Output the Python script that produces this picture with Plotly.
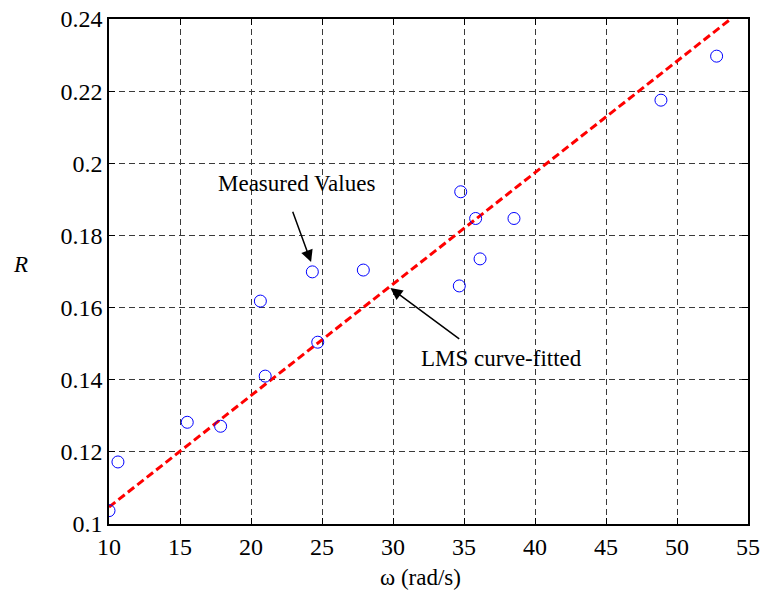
import plotly.graph_objects as go

# Measured damping-ratio samples versus angular frequency
omega_measured = [10.0, 10.63, 15.51, 17.86, 20.66, 21.0, 24.32, 24.70, 27.91,
                  34.67, 34.77, 35.82, 36.13, 38.52, 48.87, 52.79]
r_measured = [0.1037, 0.1172, 0.1282, 0.1271, 0.1618, 0.1410, 0.1699, 0.1504, 0.1704,
              0.1660, 0.1921, 0.1847, 0.1735, 0.1847, 0.2175, 0.2297]

# Least-mean-squares straight-line fit (end points)
omega_fit = [10.0, 53.78]
r_fit = [0.1047, 0.2400]

x_ticks = [10, 15, 20, 25, 30, 35, 40, 45, 50, 55]
y_ticks = [0.1, 0.12, 0.14, 0.16, 0.18, 0.2, 0.22, 0.24]
y_tick_text = ["0.1", "0.12", "0.14", "0.16", "0.18", "0.2", "0.22", "0.24"]

FONT = "Liberation Serif, Times New Roman, serif"

fig = go.Figure()

fig.add_trace(go.Scatter(
    x=omega_fit, y=r_fit, mode="lines",
    line=dict(color="#ff0000", width=3, dash="8px,4px"),
    showlegend=False, hoverinfo="skip",
))

fig.add_trace(go.Scatter(
    x=omega_measured, y=r_measured, mode="markers",
    marker=dict(symbol="circle-open", size=12, color="#0000ff",
                line=dict(width=1, color="#0000ff")),
    showlegend=False,
))

axis_common = dict(
    showline=True, linecolor="black", linewidth=1.5, mirror="ticks",
    ticks="inside", ticklen=6, tickwidth=1, tickcolor="black",
    showgrid=True, gridcolor="#3a3a3a", gridwidth=1, griddash="6px,4px",
    zeroline=False, automargin=False,
    tickfont=dict(family=FONT, size=24, color="black"),
)

fig.update_xaxes(range=[10, 55], tickvals=x_ticks, **axis_common)
fig.update_yaxes(range=[0.1, 0.24], tickvals=y_ticks, ticktext=y_tick_text,
                 **axis_common)

annotations = [
    # axis titles
    dict(text="ω (rad/s)", x=0.487, y=-0.105, xref="paper", yref="paper",
         xanchor="center", yanchor="middle",
         showarrow=False, font=dict(family=FONT, size=23, color="black")),
    dict(text="<i>R</i>", x=-0.139, y=0.513, xref="paper", yref="paper",
         xanchor="center", yanchor="middle",
         showarrow=False, font=dict(family=FONT, size=23, color="black")),
    # callout labels
    dict(text="Measured Values", x=23.17, y=0.1945, xref="x", yref="y",
         showarrow=False, font=dict(family=FONT, size=23, color="black")),
    dict(text="LMS curve-fitted", x=37.66, y=0.1460, xref="x", yref="y",
         showarrow=False, font=dict(family=FONT, size=23, color="black")),
    # arrows
    dict(text="", x=24.23, y=0.1726, ax=22.90, ay=0.1870,
         xref="x", yref="y", axref="x", ayref="y",
         showarrow=True, arrowhead=2, arrowsize=1.6, arrowwidth=1.5,
         arrowcolor="black"),
    dict(text="", x=29.82, y=0.1654, ax=34.77, ay=0.1510,
         xref="x", yref="y", axref="x", ayref="y",
         showarrow=True, arrowhead=2, arrowsize=1.6, arrowwidth=1.5,
         arrowcolor="black"),
]

fig.update_layout(
    width=763, height=592,
    margin=dict(l=109, r=15, t=19, b=68),
    paper_bgcolor="white", plot_bgcolor="white",
    annotations=annotations,
    font=dict(family=FONT, color="black"),
)

fig.write_html("out.html")
